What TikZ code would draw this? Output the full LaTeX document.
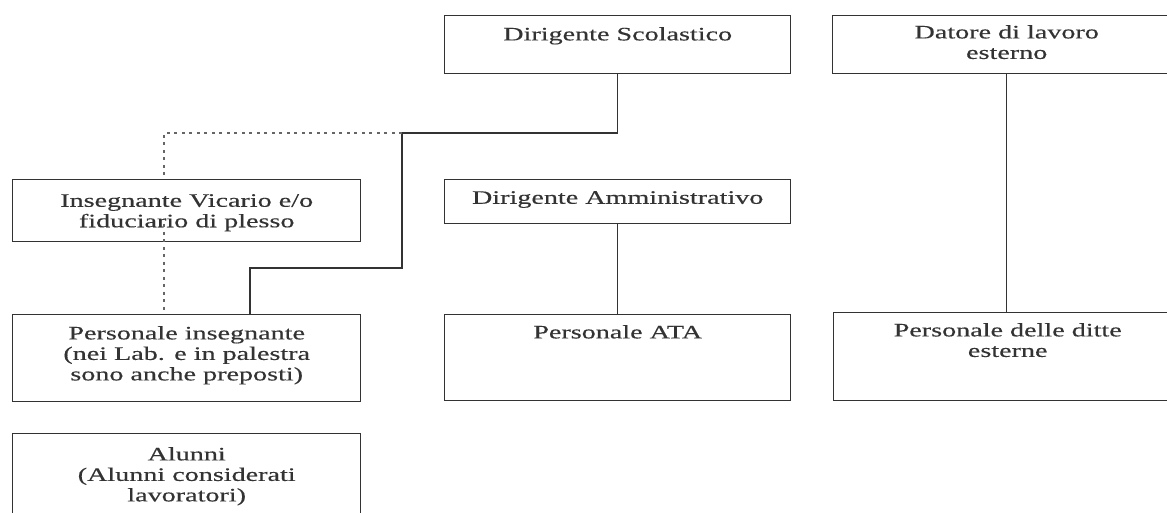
\documentclass[tikz,border=0pt]{standalone}
\usepackage{fontspec}
\setmainfont[FakeStretch=1.48,FakeBold=0.4]{Liberation Serif}
\begin{document}
\begin{tikzpicture}[x=1pt,y=-1pt,
  box/.style={draw=black!80, line width=1.4pt, rectangle, inner sep=0pt, anchor=north west},
  txt/.style={font=\fontsize{19}{20.5}\selectfont, text=black!80, align=center, inner sep=0pt, anchor=north},
  link/.style={draw=black!80, line width=1.4pt},
  dots/.style={draw=black!60, line width=1.6pt, dash pattern=on 3pt off 4.5pt}]
\useasboundingbox (0,0) rectangle (1167,513);
\clip (0,0) rectangle (1167,513);
% boxes
\node[box, minimum width=346pt, minimum height=58pt] (DS) at (444,15) {};
\node[box, minimum width=348pt, minimum height=58pt] (DT) at (832,15) {};
\node[box, minimum width=348pt, minimum height=62pt] (IV) at (12,179) {};
\node[box, minimum width=346pt, minimum height=44pt] (DA) at (444,179) {};
\node[box, minimum width=348pt, minimum height=87pt] (PI) at (12,314) {};
\node[box, minimum width=346pt, minimum height=86pt] (ATA) at (444,314) {};
\node[box, minimum width=348pt, minimum height=88pt] (DI) at (833,312) {};
\node[box, minimum width=348pt, minimum height=100pt] (AL) at (12,433) {};
% texts
\node[txt] (DSt) at ([yshift=-12pt]DS.north) {Dirigente Scolastico};
\node[txt] (DTt) at ([yshift=-10pt]DT.north) {Datore di lavoro\\esterno};
\node[txt] (IVt) at ([yshift=-15pt]IV.north) {Insegnante Vicario e/o\\fiduciario di plesso};
\node[txt] (DAt) at ([yshift=-12pt]DA.north) {Dirigente Amministrativo};
\node[txt] (PIt) at ([yshift=-12pt]PI.north) {Personale insegnante\\(nei Lab. e in palestra\\sono anche preposti)};
\node[txt] (ATAt) at ([yshift=-11pt]ATA.north) {Personale ATA};
\node[txt] (DIt) at ([yshift=-11pt]DI.north) {Personale delle ditte\\esterne};
\node[txt] (ALt) at ([yshift=-14pt]AL.north) {Alunni\\(Alunni considerati\\lavoratori)};
% connectors
\coordinate (jm) at (402,133);
\coordinate (jl) at (164,133);
\coordinate (jc) at (250,268);
\coordinate (vin) at (164,224);
\draw[link] (DS.south) |- (jm) |- (jc) -- (jc |- PI.north);
\draw[dots] (jm) -- (jl) -- (jl |- IV.north);
\draw[dots] (vin) -- (vin |- PI.north);
\draw[link] (DA.south) -- (ATA.north);
\draw[link] (DT.south) -- (DT.south |- DI.north);
\end{tikzpicture}
\end{document}
